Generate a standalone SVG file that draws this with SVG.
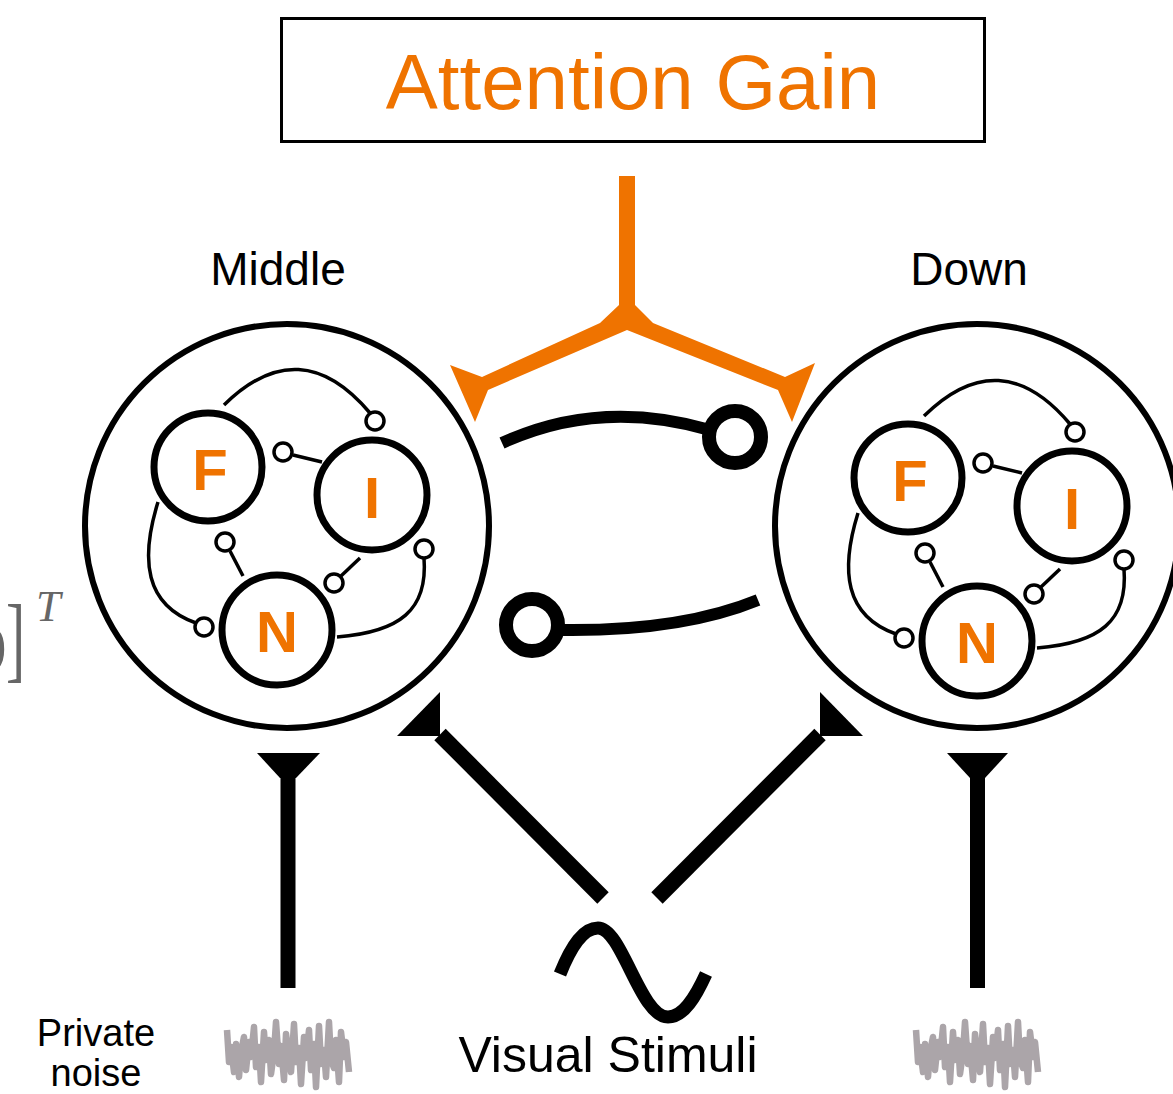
<svg xmlns="http://www.w3.org/2000/svg" width="1173" height="1094" viewBox="0 0 1173 1094">
<style>
.lbl{font-family:"Liberation Sans",Arial,sans-serif;fill:#000;text-anchor:middle}
.big{fill:none;stroke:#000;stroke-width:6}
.sub{fill:#fff;stroke:#000;stroke-width:7}
.let{font-family:"Liberation Sans",Arial,sans-serif;font-weight:bold;fill:#EF7300;text-anchor:middle;font-size:58px}
.thin{fill:none;stroke:#000;stroke-width:3.5}
.term{fill:#fff;stroke:#000;stroke-width:3.5}
.thick{fill:none;stroke:#000;stroke-width:12}
.ring{fill:#fff;stroke:#000;stroke-width:14}
.noise{fill:none;stroke:#aba5a9;stroke-width:6.5;stroke-linejoin:round}
.math{font-family:"Liberation Serif","Times New Roman",serif;fill:#666}
</style>
<rect width="1173" height="1094" fill="#fff"/>

<g id="formula-fragment">
<text class="math" x="-12" y="663" font-size="56">)</text>
<text class="math" transform="translate(6,670) scale(0.6,1)" x="0" y="0" font-size="96">]</text>
<text class="math" x="36" y="621" font-size="44" font-style="italic">T</text>
</g>

<g id="attention-gain">
<rect x="281.5" y="18.5" width="703" height="123" fill="#fff" stroke="#000" stroke-width="3"/>
<text x="633" y="109" font-family="Liberation Sans,Arial,sans-serif" font-size="78" fill="#EF7300" text-anchor="middle">Attention Gain</text>
</g>

<g id="node-middle">
<circle class="big" cx="287" cy="526" r="202"/>
<text class="lbl" x="278" y="285" font-size="46">Middle</text>
<g id="middle-F"><circle class="sub" cx="208" cy="467" r="54"/><text class="let" x="210" y="490">F</text></g>
<g id="middle-I"><circle class="sub" cx="372" cy="495" r="55"/><text class="let" x="372" y="518">I</text></g>
<g id="middle-N"><circle class="sub" cx="277" cy="630" r="55"/><text class="let" x="277" y="652">N</text></g>
</g>

<g id="node-down">
<circle class="big" cx="977" cy="526" r="202"/>
<text class="lbl" x="969" y="285" font-size="46">Down</text>
<g transform="translate(700,11)">
<g id="down-F"><circle class="sub" cx="208" cy="467" r="54"/><text class="let" x="210" y="490">F</text></g>
<g id="down-I"><circle class="sub" cx="372" cy="495" r="55"/><text class="let" x="372" y="518">I</text></g>
<g id="down-N"><circle class="sub" cx="277" cy="630" r="55"/><text class="let" x="277" y="652">N</text></g>
</g>
</g>

<g id="stimulus">
<path d="M560 974 C572 944 584 928 598 928 C622 928 640 1017 668 1017 C684 1017 696 996 706 974" fill="none" stroke="#000" stroke-width="13"/>
<text class="lbl" x="608" y="1072" font-size="50">Visual Stimuli</text>
</g>

<g id="noise-middle">
<text class="lbl" x="96" y="1046" font-size="38">Private</text>
<text class="lbl" x="96" y="1086" font-size="38">noise</text>
<polyline class="noise" points="227,1030 229,1062 231,1047 234,1072 236,1044 239,1077 241,1052 244,1037 246,1070 249,1042 251,1057 254,1027 256,1067 259,1047 261,1082 264,1032 266,1060 269,1040 271,1074 274,1052 276,1022 279,1064 281,1046 284,1080 286,1034 289,1056 291,1072 294,1024 296,1062 299,1048 301,1084 304,1037 306,1058 309,1030 311,1070 314,1044 316,1087 319,1026 321,1064 324,1050 326,1077 329,1022 331,1060 334,1068 336,1040 339,1082 341,1032 344,1057 346,1042 349,1072"/>
</g>
<g id="noise-down">
<polyline class="noise" transform="translate(689,0)" points="227,1030 229,1062 231,1047 234,1072 236,1044 239,1077 241,1052 244,1037 246,1070 249,1042 251,1057 254,1027 256,1067 259,1047 261,1082 264,1032 266,1060 269,1040 271,1074 274,1052 276,1022 279,1064 281,1046 284,1080 286,1034 289,1056 291,1072 294,1024 296,1062 299,1048 301,1084 304,1037 306,1058 309,1030 311,1070 314,1044 316,1087 319,1026 321,1064 324,1050 326,1077 329,1022 331,1060 334,1068 336,1040 339,1082 341,1032 344,1057 346,1042 349,1072"/>
</g>

<g id="connectors">
<polygon fill="#EF7300" points="619,176 635,176 635,305 653,323 785,377 815,363 792,422 778,390 627,330 488,390 475,422 450,365 482,377 600,323 619,305"/>
<g id="micro-middle">
<path class="thin" d="M224 405 Q300 330 370 413"/>
<path class="thin" d="M322 462 L293 455"/>
<path class="thin" d="M243 576 L230 551"/>
<path class="thin" d="M360 558 L341 576"/>
<path class="thin" d="M337 637 C400 632 428 610 424 558"/>
<path class="thin" d="M158 502 C140 560 145 605 196 623"/>
<circle class="term" cx="375" cy="421" r="9"/>
<circle class="term" cx="283" cy="452" r="9"/>
<circle class="term" cx="225" cy="542" r="9"/>
<circle class="term" cx="334" cy="583" r="9"/>
<circle class="term" cx="424" cy="549" r="9"/>
<circle class="term" cx="204" cy="627" r="9"/>
</g>
<g id="micro-down" transform="translate(700,11)">
<path class="thin" d="M224 405 Q300 330 370 413"/>
<path class="thin" d="M322 462 L293 455"/>
<path class="thin" d="M243 576 L230 551"/>
<path class="thin" d="M360 558 L341 576"/>
<path class="thin" d="M337 637 C400 632 428 610 424 558"/>
<path class="thin" d="M158 502 C140 560 145 605 196 623"/>
<circle class="term" cx="375" cy="421" r="9"/>
<circle class="term" cx="283" cy="452" r="9"/>
<circle class="term" cx="225" cy="542" r="9"/>
<circle class="term" cx="334" cy="583" r="9"/>
<circle class="term" cx="424" cy="549" r="9"/>
<circle class="term" cx="204" cy="627" r="9"/>
</g>
<path class="thick" d="M502 443 Q600 398 710 430"/>
<circle class="ring" cx="735" cy="437" r="26"/>
<path class="thick" d="M558 630 Q680 632 758 600"/>
<circle class="ring" cx="532" cy="625" r="26"/>
<line x1="603" y1="898" x2="440" y2="734.5" stroke="#000" stroke-width="16"/>
<polygon points="440,692 397,736 440,736"/>
<line x1="657" y1="898" x2="820" y2="734.5" stroke="#000" stroke-width="16"/>
<polygon points="820,692 863,736 820,736"/>
<rect x="280.5" y="770" width="15" height="218"/>
<polygon points="257,753 320,753 296,778 280,778"/>
<rect x="970" y="770" width="15" height="218"/>
<polygon points="947,753 1008,753 985,778 970,778"/>
</g>
</svg>
